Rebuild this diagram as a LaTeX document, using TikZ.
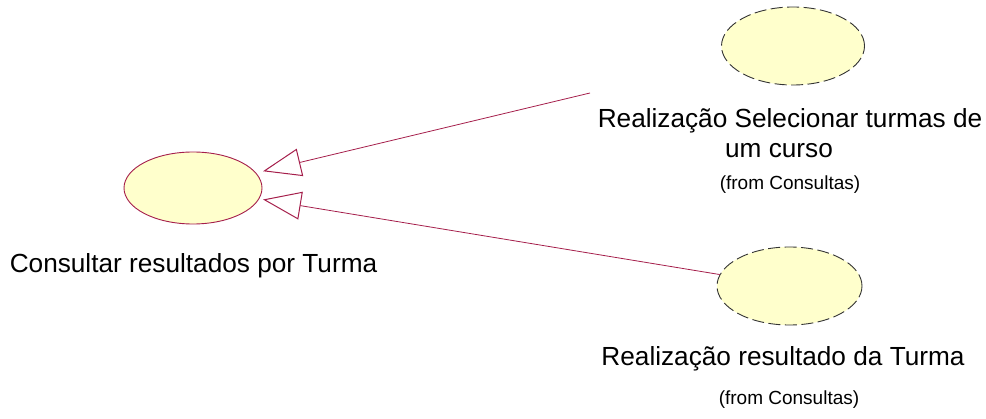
\documentclass[tikz,border=0pt]{standalone}
\usepackage{fontspec}
\setmainfont{Liberation Sans}
\usetikzlibrary{arrows.meta,shapes.geometric}
\definecolor{ucfill}{RGB}{255,255,204}
\definecolor{ucline}{RGB}{165,30,75}
\begin{document}
\begin{tikzpicture}[x=1pt,y=-1pt,
  usecase/.style={ellipse,fill=ucfill,draw=ucline,line width=0.9pt,inner sep=0pt},
  realiz/.style={ellipse,fill=ucfill,draw=black!80,line width=0.9pt,dash pattern=on 12pt off 4.5pt,inner sep=0pt},
  big/.style={font=\fontsize{26.2}{30}\selectfont,anchor=base,inner sep=0pt},
  small/.style={font=\fontsize{19}{22}\selectfont,anchor=base,inner sep=0pt},
  gen/.style={draw=ucline,line width=0.8pt,-{Triangle[open,length=38pt,width=28pt,line width=1pt]}}]
\useasboundingbox (0,0) rectangle (986,419);
\node[usecase,minimum width=138pt,minimum height=72pt] (uc) at (193,188) {};
\node[realiz,minimum width=143pt,minimum height=78pt] (r1) at (793,46) {};
\node[realiz,minimum width=145pt,minimum height=78pt] (r2) at (789.5,286) {};
\node[big] (ucl) at (193.5,273) {Consultar resultados por Turma};
\node[big] (r1a) at (790,128) {Realização Selecionar turmas de};
\node[big] (r1b) at (779,158) {um curso};
\node[small] (r1c) at (790,190) {(from Consultas)};
\node[big] (r2a) at (783,366) {Realização resultado da Turma};
\node[small] (r2c) at (789,405) {(from Consultas)};
\coordinate (c1) at (590,93);
\draw[gen,shorten >=72pt] (c1) -- (uc.center);
\draw[gen,shorten >=71pt] (r2) -- (uc.center);
\end{tikzpicture}
\end{document}
